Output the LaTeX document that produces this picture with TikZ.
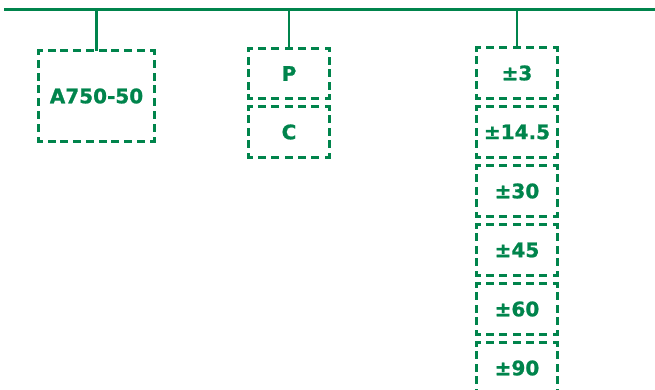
\documentclass[tikz,border=0pt]{standalone}
\usepackage{fontspec}
\setmainfont{DejaVu Sans}
\newfontfamily\heavy{DejaVu Sans Bold}[FakeBold=1]
\definecolor{grn}{RGB}{0,132,76}
\tikzset{
  bx/.style={inner sep=0pt, text=grn, font=\fontsize{20}{20}\selectfont\heavy},
  solidln/.style={draw=grn, line width=2.6pt},
  dl/.style={draw=grn, line width=2.8pt, line cap=rect},
  h80/.style={dl, dash pattern=on 5.2pt off 8.13pt, dash phase=2.6pt},
  v50/.style={dl, dash pattern=on 5.2pt off 7.3pt, dash phase=2.6pt},
  h115/.style={dl, dash pattern=on 5.2pt off 7.58pt, dash phase=2.6pt},
  v90/.style={dl, dash pattern=on 5.2pt off 7.66pt, dash phase=2.6pt},
}
\newcommand\sides[3]{%
  \draw[#2] (#1.north west) -- (#1.north east);
  \draw[#2] (#1.south west) -- (#1.south east);
  \draw[#3] (#1.north west) -- (#1.south west);
  \draw[#3] (#1.north east) -- (#1.south east);
}
\begin{document}
\begin{tikzpicture}[x=1pt,y=-1pt]
\useasboundingbox (0,0) rectangle (655,390);
\clip (0,0) rectangle (655,390);
\coordinate (tl) at (4,9.5);
\coordinate (tr) at (655,9.5);
\draw[solidln] (tl) -- (tr);
% left
\node[bx, minimum width=115pt, minimum height=90pt] (a) at (96.5,96) {A750-50};
\sides{a}{h115}{v90}
\draw[solidln] (a.north |- tl) -- (a.north);
% middle
\node[bx, minimum width=80pt, minimum height=50pt] (p) at (289,73.5) {P};
\node[bx, minimum width=80pt, minimum height=50pt] (c) at (289,132) {C};
\sides{p}{h80}{v50}
\sides{c}{h80}{v50}
\draw[solidln] (p.north |- tl) -- (p.north);
% right
\foreach \t [count=\i from 0] in {±3,±14.5,±30,±45,±60,±90}{
  \node[bx, minimum width=80pt, minimum height=50pt] (r\i) at (517,{73+59*\i}) {\t};
}
\foreach \i in {0,...,5}{\sides{r\i}{h80}{v50}}
\draw[solidln] (r0.north |- tl) -- (r0.north);
\end{tikzpicture}
\end{document}
